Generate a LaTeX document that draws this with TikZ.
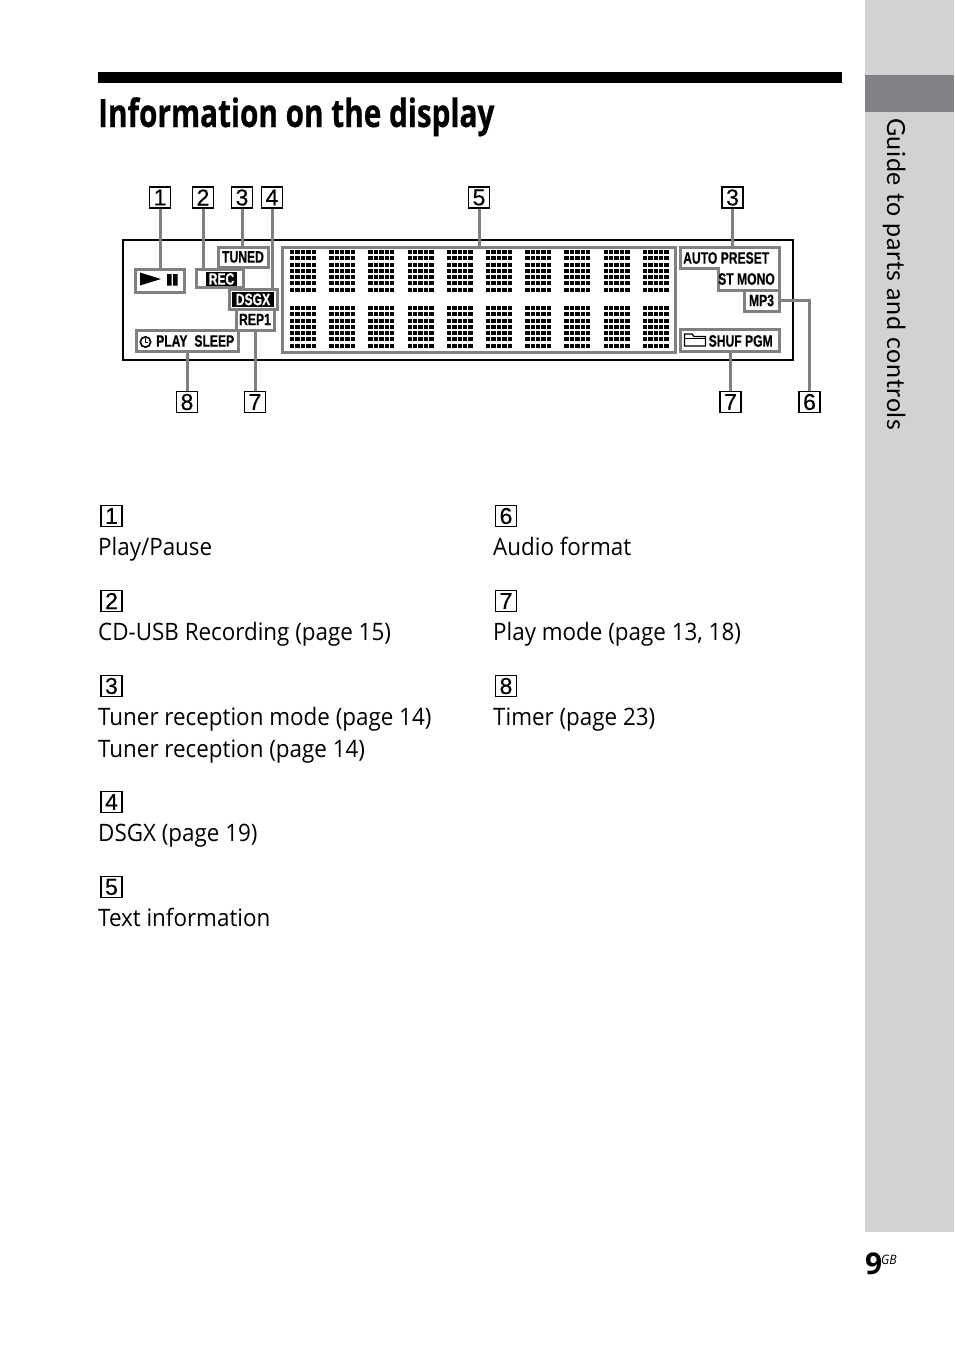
\documentclass[tikz,border=0pt]{standalone}
\usepackage{fontspec}
\setmainfont[FakeStretch=0.933]{Open Sans}
\newfontfamily\titlefont[FakeStretch=0.762,FakeBold=0.6]{Open Sans}
\newfontfamily\dspfont[FakeStretch=0.735,FakeBold=0.5]{Liberation Sans}
\newfontfamily\markfont[FakeBold=0.4]{Liberation Sans}
\newfontfamily\sidefont[LetterSpace=2.6]{Lato}
\newfontfamily\pagefont{Open Sans}
\usetikzlibrary{arrows.meta,positioning,calc}
\definecolor{ink}{HTML}{000000}
\definecolor{framegray}{HTML}{808080}
\definecolor{sidegray}{HTML}{D1D2D4}
\definecolor{banddark}{HTML}{808285}
\tikzset{
  markbox/.style={draw=ink,fill=white,line width=1.3pt,minimum width=21,minimum height=21,
                  inner sep=0pt,font=\fontsize{23}{23}\selectfont\markfont},
  segbox/.style={draw=framegray,line width=3pt,inner sep=0pt,
                 font=\fontsize{16.5}{17}\selectfont\dspfont\bfseries},
  dsptext/.style={inner sep=0pt,font=\fontsize{16.5}{17}\selectfont\dspfont\bfseries},
  leader/.style={draw=framegray,line width=3pt},
  bodytext/.style={anchor=base west,inner sep=0pt,font=\fontsize{24}{30}\selectfont}
}
\begin{document}
\begin{tikzpicture}[x=1pt,y=-1pt]
  \useasboundingbox (0,0) rectangle (954,1357);
  % ---- side tab ----
  \fill[sidegray] (865,0) rectangle (954,1232);
  \fill[banddark] (865,75) rectangle (954,112);
  \node[rotate=-90,anchor=base west,inner sep=0pt,font=\fontsize{25}{30}\selectfont\sidefont] (sidetitle) at (887,118)
    {Guide to parts and controls};
  % ---- heading ----
  \fill[ink] (98,72) rectangle (842,83);
  \node[anchor=base west,inner sep=0pt,font=\fontsize{39}{40}\selectfont\titlefont\bfseries] (heading) at (98,127)
    {Information on the display};
  % ---- display ----
  \node[draw=ink,line width=2pt,minimum width=670,minimum height=120,inner sep=0pt] (display) at (457.5,299.5) {};
  \node[segbox,minimum width=393,minimum height=105] (textseg) at (478.5,299.5) {};
  \foreach \cy in {250,306}
    \foreach \cx in {0,...,9}
      \foreach \dx in {0,...,4}
        \foreach \dy in {0,...,6}
          \fill[ink] ({290+39.2*\cx+5.4*\dx},{\cy+6.25*\dy}) rectangle +(4.4,4);
  \node[segbox,minimum width=49,minimum height=23] (playseg) at (159.5,280.5) {};
  \fill[ink] (140,272.5) -- (161,279) -- (140,285.5) -- cycle;
  \fill[ink] (167,274) rectangle +(4.5,11.5) (173,274) rectangle +(4.5,11.5);
  \node[segbox,minimum width=47,minimum height=18] (recseg) at (219.5,278.5) {};
  \node[dsptext,fill=ink,text=white,minimum width=31,minimum height=14] (rectext) at (221.5,279) {REC};
  \node[segbox,minimum width=50,minimum height=20] (tunedseg) at (243,257) {TUNED};
  \node[segbox,minimum width=48,minimum height=20] (dsgxseg) at (253,299) {};
  \node[dsptext,fill=ink,text=white,minimum width=42,minimum height=15] (dsgxtext) at (253,299.5) {DSGX};
  \node[segbox,minimum width=38,minimum height=21] (repseg) at (255,319.5) {REP1};
  \node[segbox,minimum width=102,minimum height=21] (sleepseg) at (187,340.5) {};
  \draw[ink,line width=1.6pt] (145.5,342) circle (5.2);
  \draw[ink,line width=1.6pt] (145.5,338) -- (145.5,342.5) -- (148,342.5);
  \node[dsptext,anchor=west] (sleeptext) at (156,341) {PLAY\hspace{7pt}SLEEP};
  \draw[framegray,line width=3pt] (680,247) -- (779,247) -- (779,290) -- (718,290) -- (718,268) -- (680,268) -- cycle;
  \node[dsptext,anchor=west] (autotext) at (683,258) {AUTO PRESET};
  \node[dsptext,anchor=west] (monotext) at (718,279) {ST MONO};
  \coordinate (autotop) at (732.5,247);
  \node[segbox,minimum width=35,minimum height=21] (mpseg) at (761.5,300.5) {MP3};
  \node[segbox,minimum width=99,minimum height=22] (shufseg) at (729.5,340.5) {};
  \draw[ink,line width=1.2pt] (684.5,346) -- (684.5,334) -- (692,334) -- (694,336.5) -- (705.5,336.5) -- (705.5,346) -- cycle;
  \draw[ink,line width=0.8pt] (684.5,338.5) -- (705.5,338.5);
  \node[dsptext,anchor=west] (shuftext) at (708.5,341) {SHUF PGM};
  % ---- callout numbers ----
  \foreach \mname/\mnum/\mx/\my in {ma/1/160/197.5,mb/2/203/197.5,mc/3/242/197.5,md/4/272/197.5,
      me/5/479/197.5,mf/3/732.5/197.5,mg/8/187/402,mh/7/255/402,mi/7/730.5/402,mj/6/809.5/402}
    \node[markbox] (\mname) at (\mx,\my) {\mnum};
  \draw[leader] (ma) -- (ma |- playseg.north);
  \draw[leader] (mb) -- (mb |- recseg.north);
  \draw[leader] (mc) -- (mc |- tunedseg.north);
  \draw[leader] (md) -- (md |- dsgxseg.north);
  \draw[leader] (me) -- (me |- textseg.north);
  \draw[leader] (mf) -- (autotop);
  \draw[leader] (mg) -- (mg |- sleepseg.south);
  \draw[leader] (mh) -- (mh |- repseg.south);
  \draw[leader] (mi) -- (mi |- shufseg.south);
  \draw[leader] (mpseg.east) -| (mj.north);
  % ---- list, left column ----
  \foreach \lname/\lnum/\ly/\ltext in {la/1/516/{Play/Pause},lb/2/601/{CD-USB Recording (page 15)},
      lc/3/686/{Tuner reception mode (page 14)},ld/4/802/{DSGX (page 19)},le/5/887/{Text information}}{
    \node[markbox] (\lname) at (111.5,\ly) {\lnum};
    \node[bodytext] (\lname text) at (98,\ly+39.5) {\ltext};
  }
  \node[bodytext] (lcsecond) at (98,757.5) {Tuner reception (page 14)};
  % ---- list, right column ----
  \foreach \rname/\rnum/\ry/\rtext in {rf/6/516/{Audio format},rg/7/601/{Play mode (page 13, 18)},rh/8/686/{Timer (page 23)}}{
    \node[markbox] (\rname) at (506,\ry) {\rnum};
    \node[bodytext] (\rname text) at (493,\ry+39.5) {\rtext};
  }
  % ---- page number ----
  \node[anchor=base west,inner sep=0pt,font=\fontsize{30}{30}\selectfont\pagefont\bfseries] (pagenum) at (865,1274) {9};
  \node[anchor=base west,inner sep=0pt,font=\fontsize{13}{13}\selectfont\itshape] (pagegb) at (881,1264) {GB};
\end{tikzpicture}
\end{document}
